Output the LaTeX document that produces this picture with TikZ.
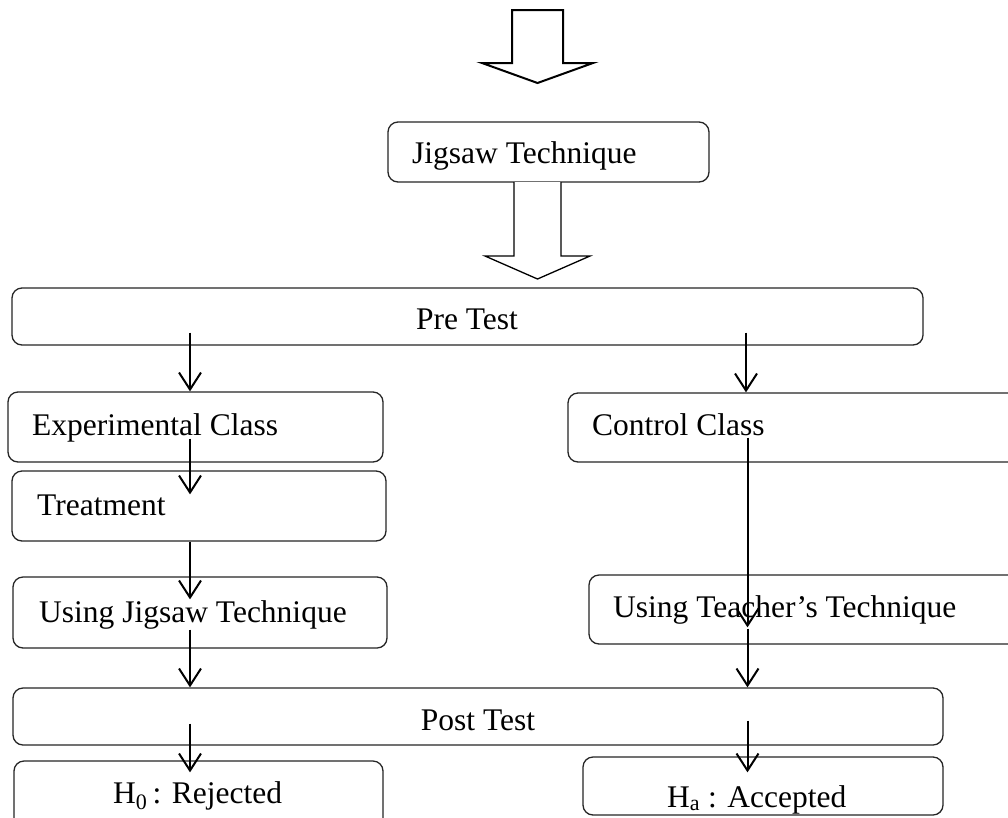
\documentclass[tikz,border=0pt]{standalone}
\usepackage{fontspec}
\setmainfont{Liberation Serif}
\usetikzlibrary{arrows.meta,fit}
\tikzset{
  box/.style={draw=black!85, line width=1.3pt, rounded corners=10pt, inner sep=0pt, fill=none},
  lbl/.style={inner sep=0pt, font=\fontsize{31.5pt}{36pt}\selectfont},
  arr/.style={line width=2pt, -{Straight Barb[length=17pt,width=22pt,line width=2pt]}},
  block/.style={draw=black, fill=white, line join=miter},
}
\begin{document}
\begin{tikzpicture}[x=1pt,y=-1pt]
\useasboundingbox (0,0) rectangle (1008,817);
\fill[white] (0,0) rectangle (1008,817);
\clip (0,0) rectangle (1008,817);

% top hollow arrow
\draw[block, line width=2pt] (512,10) -- (563,10) -- (563,63) -- (593,63) -- (537.5,83) -- (482,63) -- (512,63) -- cycle;

% boxes
\node[box, fit={(388,122)(709,182)}] (jig) {};
\node[box, fit={(12,288)(923,345)}] (pre) {};
\node[box, fit={(8,392)(383,462)}] (exp) {};
\node[box, fit={(12,471)(386,541)}] (treat) {};
\node[box, fit={(568,393)(1040,462)}] (ctrl) {};
\node[box, fit={(13,577)(387,648)}] (ujig) {};
\node[box, fit={(589,575)(1040,644)}] (uteach) {};
\node[box, fit={(13,688)(943,745)}] (post) {};
\node[box, fit={(14,761)(383,840)}] (hnull) {};
\node[box, fit={(583,757)(943,815)}] (halt) {};

% labels
\node[lbl, anchor=base west] (tjig) at (412,163) {Jigsaw Technique};
\node[lbl, anchor=base] (tpre) at (467,329) {Pre Test};
\node[lbl, anchor=base west] (texp) at (32,435) {Experimental Class};
\node[lbl, anchor=base west] (ttreat) at (37,515) {Treatment};
\node[lbl, anchor=base west] (tctrl) at (592,435) {Control Class};
\node[lbl, anchor=base west] (tujig) at (39,622) {Using Jigsaw Technique};
\node[lbl, anchor=base west] (tuteach) at (613,617) {Using Teacher’s Technique};
\node[lbl, anchor=base] (tpost) at (478,730) {Post Test};
\node[lbl, anchor=base west] (thnull) at (113,803) {H\textsubscript{0}\,: Rejected};
\node[lbl, anchor=base west] (thalt) at (667,807) {H\textsubscript{a} : Accepted};

% hollow arrow from Jigsaw Technique to Pre Test
\draw[block, line width=1.3pt] (514,182) -- (514,256) -- (485,256) -- (537.5,279) -- (590,256) -- (561,256) -- (561,182);

% column coordinates
\coordinate (L) at (190,0);
\coordinate (R) at (746,0);
\coordinate (R2) at (747.5,0);

% arrows
\draw[arr] ([yshift=13pt]pre.south -| L) -- (exp.north -| L);
\draw[arr] ([yshift=13pt]pre.south -| R) -- (ctrl.north -| R);
\draw[arr] ([yshift=24pt]exp.south -| L) -- ([yshift=-24pt]treat.north -| L);
\draw[arr] (treat.south -| L) -- ([yshift=-23pt]ujig.north -| L);
\draw[arr] ([yshift=19pt]ujig.south -| L) -- (post.north -| L);
\draw[arr] ([yshift=25pt]ctrl.south -| R2) -- ([yshift=-53pt]uteach.north -| R2);
\draw[arr] ([yshift=16pt]uteach.south -| R2) -- (post.north -| R2);
\draw[arr] ([yshift=22pt]post.south -| L) -- ([yshift=-12pt]hnull.north -| L);
\draw[arr] ([yshift=25pt]post.south -| R2) -- ([yshift=-16pt]halt.north -| R2);
\end{tikzpicture}
\end{document}
